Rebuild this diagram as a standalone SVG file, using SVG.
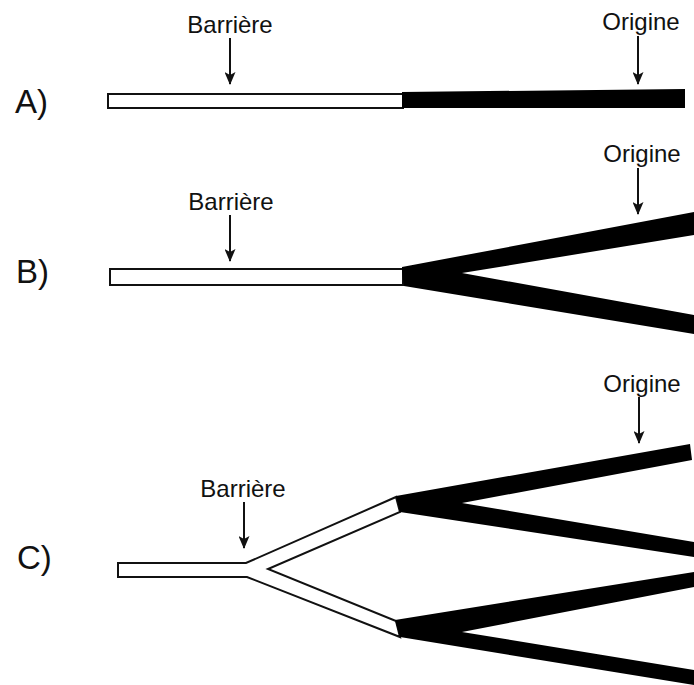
<svg xmlns="http://www.w3.org/2000/svg" width="694" height="685" viewBox="0 0 694 685">
<defs>
<style>
.lbl{font-family:"Liberation Sans",Arial,sans-serif;font-size:24px;fill:#111}
.big{font-family:"Liberation Sans",Arial,sans-serif;font-size:33px;fill:#111}
.white{fill:#fff;stroke:#111;stroke-width:2;stroke-linejoin:miter}
.black{fill:#000;stroke:none}
.arrow{stroke:#111;stroke-width:2;fill:none;marker-end:url(#ah)}
</style>
<marker id="ah" markerWidth="13" markerHeight="11" refX="12" refY="5.5" orient="auto" markerUnits="userSpaceOnUse" viewBox="0 0 13 11">
<path d="M0,0 L13,5.5 L0,11 L3,5.5 Z" fill="#111"/>
</marker>
</defs>
<rect width="694" height="685" fill="#fff"/>

<g id="panelA">
<text class="big" x="15" y="113">A)</text>
<rect class="white" x="108" y="94" width="295" height="14"/>
<polygon class="black" points="402,92 685,89 685,108 402,108"/>
<text class="lbl" x="230" y="33" text-anchor="middle">Barrière</text>
<text class="lbl" x="641" y="30" text-anchor="middle">Origine</text>
</g>

<g id="panelB">
<text class="big" x="16" y="283">B)</text>
<rect class="white" x="110" y="269" width="293" height="16"/>
<polygon class="black" points="402,267 694,212 694,235 462,273 694,315 694,334 404,286 402,272"/>
<text class="lbl" x="231" y="210" text-anchor="middle">Barrière</text>
<text class="lbl" x="642" y="162" text-anchor="middle">Origine</text>
</g>

<g id="panelC">
<text class="big" x="17" y="569">C)</text>
<path class="white" d="M118,563 L246,563 L396,497 L400,512 L268,569 L396,621 L400,637 L247,577 L118,577 Z"/>
<polygon class="black" points="396,496 690,444 692,460 462,503 694,542 694,557 400,512"/>
<polygon class="black" points="395,620 694,572 694,587 462,632 694,670 694,685 400,637"/>
<text class="lbl" x="243" y="497" text-anchor="middle">Barrière</text>
<text class="lbl" x="642" y="392" text-anchor="middle">Origine</text>
</g>

<g id="connectors">
<line class="arrow" x1="230" y1="38" x2="230" y2="84"/>
<line class="arrow" x1="638" y1="36" x2="638" y2="84"/>
<line class="arrow" x1="230" y1="215" x2="230" y2="261"/>
<line class="arrow" x1="638" y1="168" x2="638" y2="214"/>
<line class="arrow" x1="244" y1="502" x2="244" y2="548"/>
<line class="arrow" x1="639" y1="397" x2="639" y2="443"/>
</g>
</svg>
